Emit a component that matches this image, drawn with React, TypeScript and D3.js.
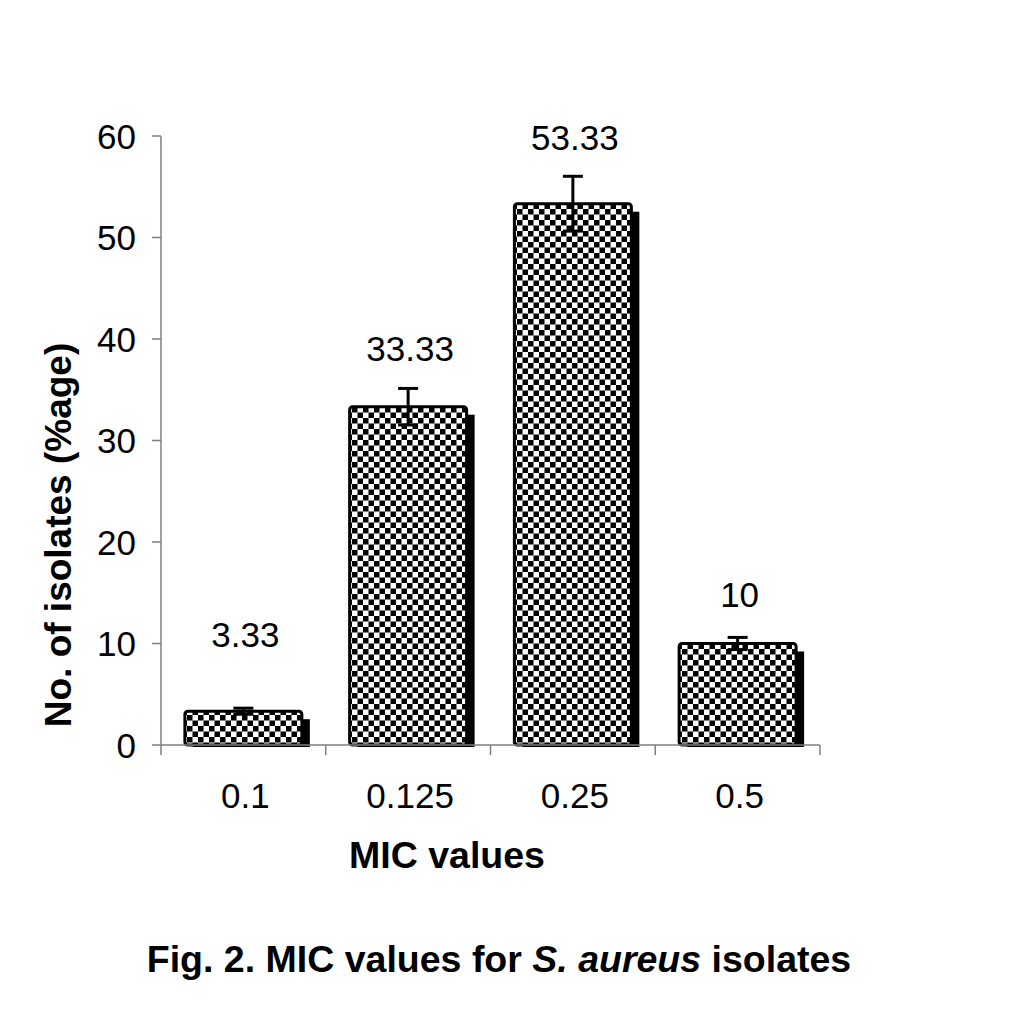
import React from 'react';
import * as d3 from 'd3';

// MIC categories and share of isolates (%)
const categories = ['0.1', '0.125', '0.25', '0.5'];
const values = [3.33, 33.33, 53.33, 10];
const errors = [0.3, 1.8, 2.7, 0.6];
const valueLabels = ['3.33', '33.33', '53.33', '10'];
// height (in % units) where each value label sits
const labelLevels = [9.7, 37.8, 58.6, 13.6];
const yTicks = [0, 10, 20, 30, 40, 50, 60];

const width = 1012;
const height = 1024;
const marginLeft = 161;
const marginRight = 192;
const marginTop = 136;
const axisY = 745;

const font = '"Liberation Sans", Arial, sans-serif';

const App: React.FC = () => {
  // 横轴
  const x = d3.scaleBand<string>()
    .domain(categories)
    .range([marginLeft, width - marginRight])
    .paddingInner(0.29)
    .paddingOuter(0.145);

  // 纵轴
  const y = d3.scaleLinear()
    .domain([0, 60])
    .range([axisY, marginTop]);

  const step = x.step();
  const bw = x.bandwidth();
  const shadow = 8;
  // category boundaries for the x tick marks
  const boundaries = d3.range(categories.length + 1).map((i) => marginLeft + i * step);

  return (
    <svg width={width} height={height} style={{ position: 'absolute', left: 0, top: 0, background: '#fff' }}>
      <defs>
        <pattern id="checker" patternUnits="userSpaceOnUse" width={11} height={11}>
          <rect width={11} height={11} fill="#fff" />
          <rect width={5.5} height={5.5} fill="#000" />
          <rect x={5.5} y={5.5} width={5.5} height={5.5} fill="#000" />
        </pattern>
      </defs>

      {/* y axis */}
      <line x1={marginLeft} x2={marginLeft} y1={y(60)} y2={axisY} stroke="#7f7f7f" strokeWidth={1.5} />
      {yTicks.map((t) => (
        <g key={t}>
          <line x1={marginLeft - 9} x2={marginLeft} y1={y(t)} y2={y(t)} stroke="#7f7f7f" strokeWidth={1.5} />
          <text x={136} y={y(t)} dy="0.36em" textAnchor="end" fontFamily={font} fontSize={35}>{t}</text>
        </g>
      ))}

      {/* bars with drop shadow */}
      {categories.map((c, i) => {
        const x0 = x(c)!;
        const top = y(values[i]);
        return (
          <g key={c}>
            <rect x={x0 + shadow} y={top + shadow} width={bw} height={axisY + 2 - top - shadow} fill="#000" />
            <rect x={x0} y={top} width={bw} height={axisY - top} fill="url(#checker)" stroke="#000" strokeWidth={3} rx={3} />
          </g>
        );
      })}

      {/* x axis */}
      <line x1={marginLeft} x2={width - marginRight} y1={axisY} y2={axisY} stroke="#7f7f7f" strokeWidth={1.5} />
      {boundaries.map((b) => (
        <line key={b} x1={b} x2={b} y1={axisY} y2={axisY + 10} stroke="#7f7f7f" strokeWidth={1.5} />
      ))}

      {/* error bars */}
      {categories.map((c, i) => {
        const cx = x(c)! + bw / 2;
        const hi = y(values[i] + errors[i]);
        const lo = y(values[i] - errors[i]);
        return (
          <g key={c} stroke="#000" strokeWidth={3}>
            <line x1={cx} x2={cx} y1={hi} y2={lo} />
            <line x1={cx - 10} x2={cx + 10} y1={hi} y2={hi} />
            <line x1={cx - 10} x2={cx + 10} y1={lo} y2={lo} />
          </g>
        );
      })}

      {/* value labels */}
      {categories.map((c, i) => (
        <text key={c} x={x(c)! + bw / 2 + 2} y={y(labelLevels[i])} textAnchor="middle" fontFamily={font} fontSize={35}>
          {valueLabels[i]}
        </text>
      ))}

      {/* x tick labels */}
      {categories.map((c) => (
        <text key={c} x={x(c)! + bw / 2 + 2} y={808} textAnchor="middle" fontFamily={font} fontSize={35}>{c}</text>
      ))}

      {/* axis titles */}
      <text x={447} y={868} textAnchor="middle" fontFamily={font} fontSize={37.5} fontWeight="bold">MIC values</text>
      <text transform="translate(71,535) rotate(-90)" textAnchor="middle" fontFamily={font} fontSize={37} fontWeight="bold">
        No. of isolates (%age)
      </text>

      {/* caption */}
      <text x={499} y={972} textAnchor="middle" fontFamily={font} fontSize={37.5} fontWeight="bold">
        Fig. 2. MIC values for <tspan fontStyle="italic">S. aureus</tspan> isolates
      </text>
    </svg>
  );
};

export default App;
